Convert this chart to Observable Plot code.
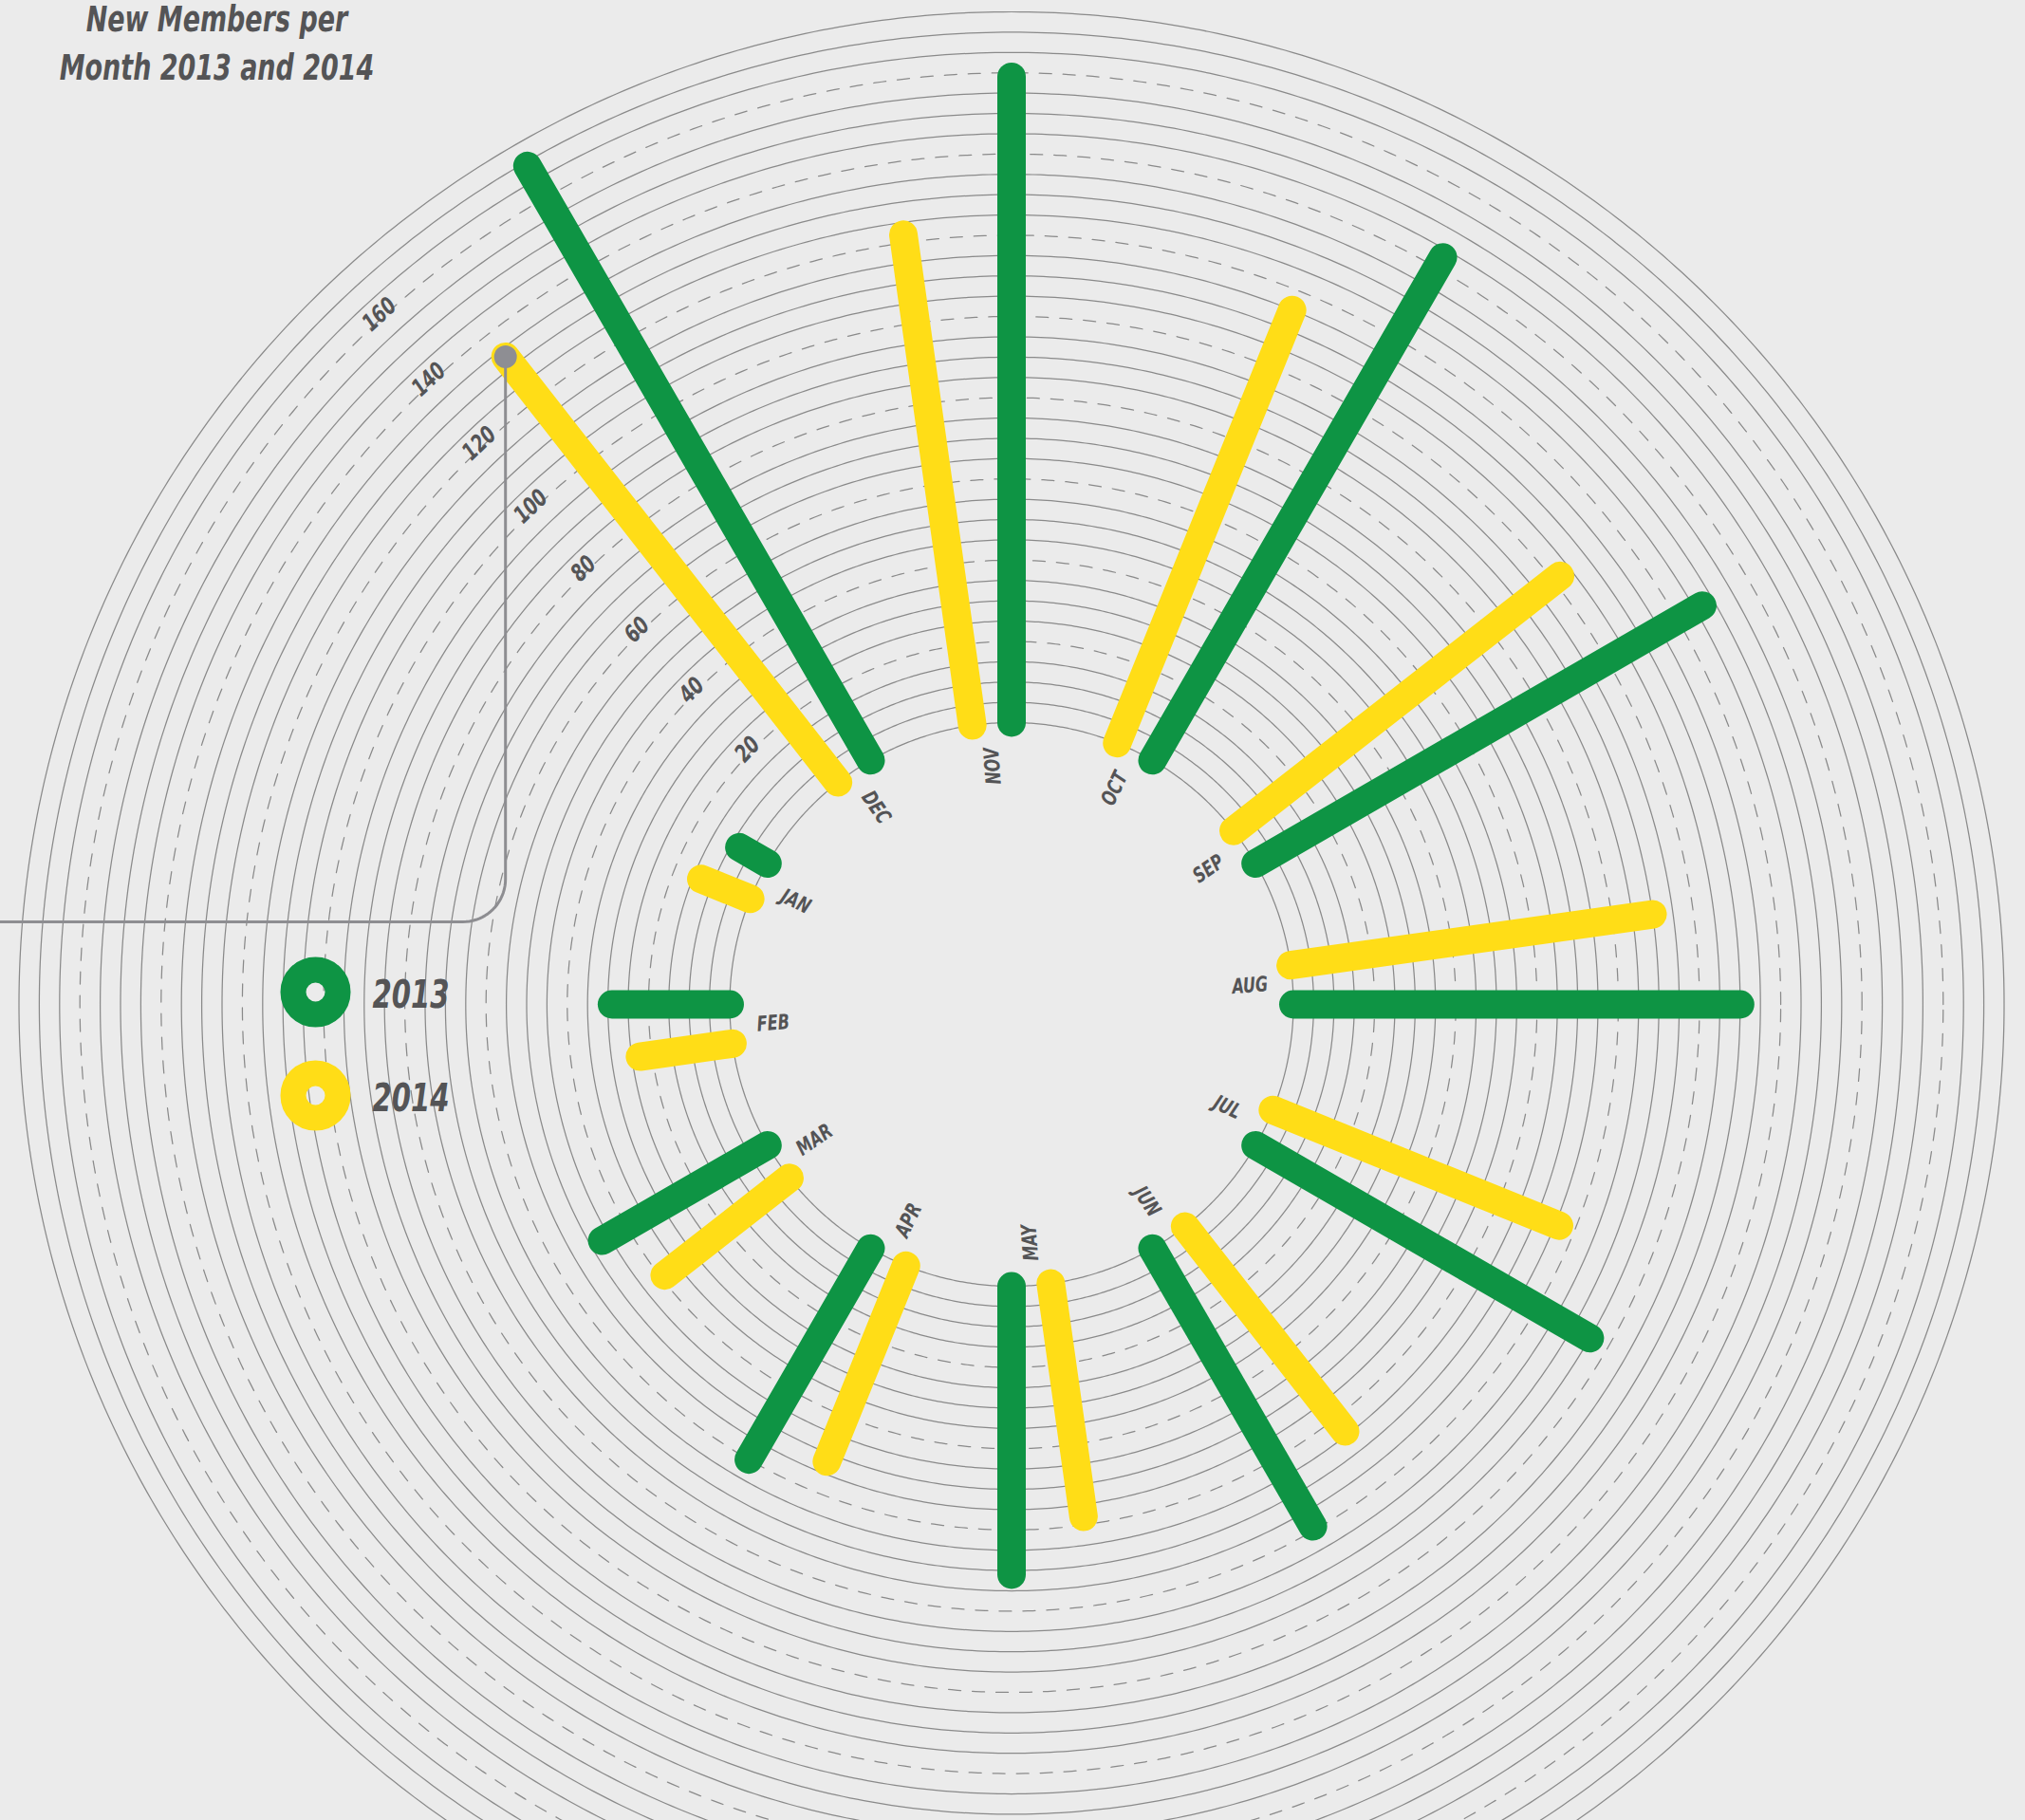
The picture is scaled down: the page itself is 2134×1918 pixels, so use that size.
<!DOCTYPE html>
<html><head><meta charset="utf-8">
<script src="https://cdn.jsdelivr.net/npm/d3@7"></script>
<script src="https://cdn.jsdelivr.net/npm/@observablehq/plot@0.6"></script>
<style>
html,body{margin:0;padding:0;background:#ebebeb;}
#chart svg{display:block;}
</style></head><body><div id="chart"></div>
<script>
// ---- data ----
const months = ["JAN","FEB","MAR","APR","MAY","JUN","JUL","AUG","SEP","OCT","NOV","DEC"];
const members2013 = [8, 29, 47, 60, 71, 79, 95, 110, 127, 143, 159, 169];
const members2014 = [13, 23, 39, 52, 58, 64, 76, 90, 102, 115, 122, 133];
const years = ["2013", "2014"];
const yearColors = ["#0e9444", "#ffdd17"];
const tickValues = [20, 40, 60, 80, 100, 120, 140, 160];
const gridValues = d3.range(0, 176, 5);
const titleLines = ["New Members per", "Month 2013 and 2014"];

// ---- geometry ----
const W = 2134, H = 1918, CX = 1065.5, CY = 1058, K = 4.28;
const R0 = 297 / K;            // radius of value 0 (in value units)
const rad = v => R0 + v;
const deg = Math.PI / 180;
const monthAngle = i => 150 + 30 * i;   // degrees, counter-clockwise from east
const yearOffset = [0, 8];
const labelR = 252 / K;
const tickAngle = v => 136 - (v - 20) * 0.025;
const font = "'Liberation Sans Narrow','DejaVu Sans Condensed','Roboto',sans-serif";
const textColor = "#545456";

const bars = [];
years.forEach((yr, j) => {
  const vals = j === 0 ? members2013 : members2014;
  months.forEach((m, i) => {
    const a = (monthAngle(i) + yearOffset[j]) * deg;
    bars.push({month: m, year: yr, value: vals[i],
      x1: R0 * Math.cos(a), y1: R0 * Math.sin(a),
      x2: rad(vals[i]) * Math.cos(a), y2: rad(vals[i]) * Math.sin(a)});
  });
});

const ringPts = [];
gridValues.forEach(v => {
  for (let k = 0; k <= 720; k++) {
    const a = k / 720 * 2 * Math.PI;
    ringPts.push({v, dashed: v > 0 && v % 20 === 0, x: rad(v) * Math.cos(a), y: rad(v) * Math.sin(a)});
  }
});

const labels = months.map((m, i) => {
  let th = ((monthAngle(i) % 360) + 360) % 360; if (th > 180) th -= 360;
  const la = th + 4.5;
  const rot = (th > -90 && th <= 90) ? -la : 180 - la;
  return {m, x: labelR * Math.cos(la * deg), y: labelR * Math.sin(la * deg), rot};
});

// annotation from the Dec 2014 bar end
const dec = bars.find(d => d.year === "2014" && d.month === "DEC");
const yh = (CY - 971) / K, rc = 45 / K;
const xmin = -CX / K;
const annot = [{x: dec.x2, y: dec.y2}, {x: dec.x2, y: yh + rc}];
for (let k = 1; k <= 20; k++) {
  const a = -k / 20 * Math.PI / 2;
  annot.push({x: dec.x2 - rc + rc * Math.cos(a), y: yh + rc + rc * Math.sin(a)});
}
annot.push({x: xmin, y: yh});

const txt = {fill: textColor, fontWeight: "bold", fontStyle: "italic", fontFamily: font, className: "cond"};

const chart = Plot.plot({
  width: W, height: H, margin: 0,
  style: {background: "#ebebeb"},
  x: {domain: [-CX / K, (W - CX) / K], range: [0, W], axis: null},
  y: {domain: [-(H - CY) / K, CY / K], range: [H, 0], axis: null},
  marks: [
    Plot.line(ringPts.filter(d => !d.dashed), {x: "x", y: "y", z: "v", stroke: "#8a8a8a", strokeWidth: 1.25}),
    Plot.line(ringPts.filter(d => d.dashed), {x: "x", y: "y", z: "v", stroke: "#8a8a8a", strokeWidth: 1.25, strokeDasharray: "13,12"}),
    Plot.link(bars, {x1: "x1", y1: "y1", x2: "x2", y2: "y2", stroke: d => yearColors[years.indexOf(d.year)], strokeWidth: 30, strokeLinecap: "round"}),
    Plot.text(labels, {...txt, x: "x", y: "y", text: "m", rotate: "rot", fontSize: 22, textAnchor: "middle", lineAnchor: "middle"}),
    Plot.text(tickValues, {...txt, x: d => rad(d + 1) * Math.cos(tickAngle(d) * deg), y: d => rad(d + 1) * Math.sin(tickAngle(d) * deg), text: d => String(d), rotate: d => 90 - tickAngle(d), fontSize: 25, textAnchor: "middle", lineAnchor: "middle"}),
    Plot.line(annot, {x: "x", y: "y", stroke: "#8d8d91", strokeWidth: 3}),
    Plot.dot([dec], {x: "x2", y: "y2", r: 12, fill: "#8e8e93"}),
    ...years.map((yr, j) => Plot.dot([yr], {frameAnchor: "top-left", dx: 332, dy: 1045 + j * 109, r: 23.5, stroke: yearColors[j], strokeWidth: 27, fill: "none"})),
    ...years.map((yr, j) => Plot.text([yr], {...txt, frameAnchor: "top-left", dx: 392, dy: 1061 + j * 109, text: d => d, textAnchor: "start", lineAnchor: "bottom", fontSize: 40})),
    ...titleLines.map((t, j) => Plot.text([t], {...txt, frameAnchor: "top-left", dx: 228, dy: 32 + j * 51, text: d => d, textAnchor: "middle", lineAnchor: "bottom", fontSize: 37}))
  ]
});
document.getElementById("chart").appendChild(chart);
// emulate a condensed face: compress glyph widths of the chart's text
chart.querySelectorAll("g.cond text").forEach(t => {
  const len = t.getComputedTextLength();
  if (len > 0) {
    t.setAttribute("textLength", (len * 0.81).toFixed(1));
    t.setAttribute("lengthAdjust", "spacingAndGlyphs");
  }
});
</script></body></html>
